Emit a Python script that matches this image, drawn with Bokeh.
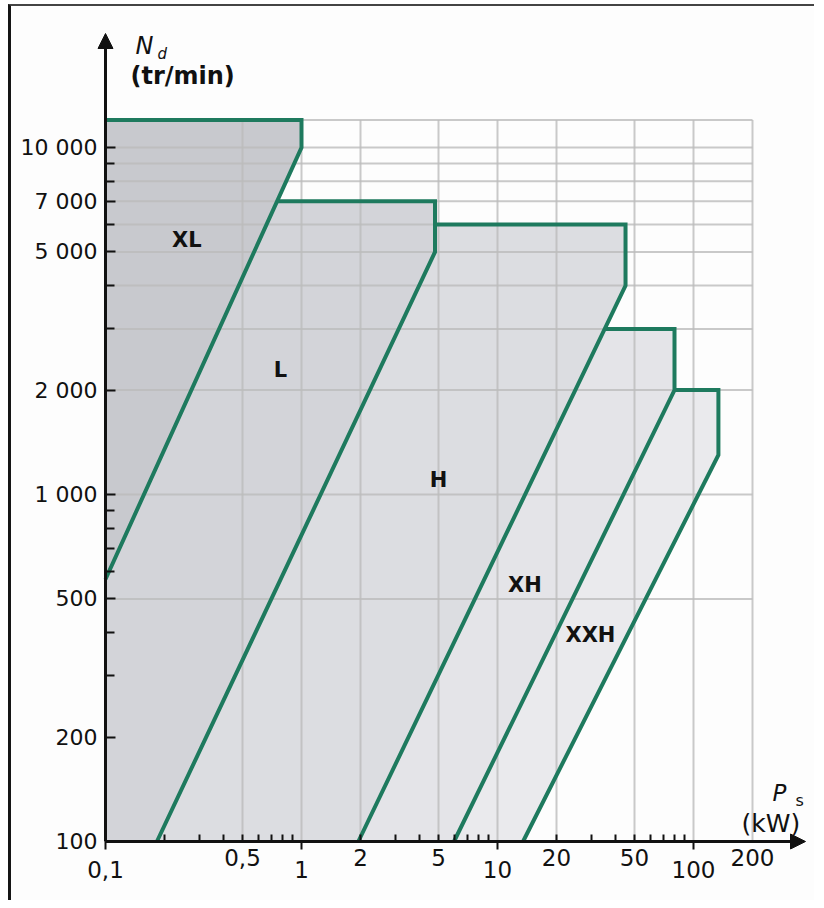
import numpy as np
from bokeh.plotting import figure
from bokeh.models import (Range1d, FixedTicker, Label, Arrow, NormalHead, ColumnDataSource,
                          CustomJSTickFormatter)
from bokeh.core.properties import value
from bokeh.embed import file_html
from bokeh.resources import INLINE

# ---------------- data ----------------
belt_names = ["XL", "L", "H", "XH", "XXH"]
# outer limit of each belt: power P_s (kW) / speed N_d (tr/min), from top-left down to the foot
xl_power = [0.1, 1.0, 1.0, 0.1]
xl_speed = [12000, 12000, 10000, 570]
l_power = [0.1, 4.8, 4.8, 0.183]
l_speed = [7000, 7000, 5000, 100]
h_power = [0.1, 45, 45, 1.95]
h_speed = [6000, 6000, 4000, 100]
xh_power = [0.1, 80, 80, 6.0]
xh_speed = [3000, 3000, 2000, 100]
xxh_power = [0.1, 134, 134, 13.5]
xxh_speed = [2000, 2000, 1300, 100]

label_power = [0.26, 0.78, 5.0, 13.8, 29.8]
label_speed = [5400, 2280, 1100, 547, 393]

grid_power = [0.5, 1, 2, 5, 10, 20, 50, 100, 200]
grid_speed = [500, 1000, 2000, 3000, 4000, 5000, 6000, 7000, 8000, 9000, 10000, 12000]

x_tick_values = [0.1, 0.5, 1, 2, 5, 10, 20, 50, 100, 200]
x_tick_labels = ["0,1", "0,5", "1", "2", "5", "10", "20", "50", "100", "200"]
x_decade_ticks = [0.1, 1, 10, 100]
x_minor_ticks = [0.2, 0.3, 0.4, 0.5, 0.6, 0.7, 0.8, 0.9,
                 2, 3, 4, 5, 6, 7, 8, 9,
                 20, 30, 40, 50, 60, 70, 80, 90]
y_tick_values = [100, 200, 500, 1000, 2000, 5000, 7000, 10000]
y_tick_labels = ["100", "200", "500", "1 000", "2 000", "5 000", "7 000", "10 000"]
y_minor_ticks = [300, 400, 600, 700, 800, 900, 3000, 4000, 6000, 8000, 9000]

belt_power = [xl_power, l_power, h_power, xh_power, xxh_power]
belt_speed = [xl_speed, l_speed, h_speed, xh_speed, xxh_speed]

# ---------------- layout: the frame fills the whole canvas ----------------
P_MIN, N_MIN = 0.1, 100          # axis origin
PX_DEC_X, PX_DEC_Y = 196, 347    # pixels per decade
W, H = 806, 896
ORIG_X, ORIG_Y = 94, 835         # canvas position of the origin (0.1 kW, 100 tr/min)
TIP_X, TIP_Y = 794, 27           # canvas position of the arrow tips
X_START = P_MIN * 10 ** (-ORIG_X / PX_DEC_X)
X_END = P_MIN * 10 ** ((W - ORIG_X) / PX_DEC_X)
Y_START = N_MIN * 10 ** (-(H - ORIG_Y) / PX_DEC_Y)
Y_END = N_MIN * 10 ** (ORIG_Y / PX_DEC_Y)
P_TIP = P_MIN * 10 ** ((TIP_X - ORIG_X) / PX_DEC_X)
N_TIP = N_MIN * 10 ** ((ORIG_Y - TIP_Y) / PX_DEC_Y)

GREEN = "#1e7a5e"
INK = "#111111"
fill_colors = ["#c8c9ce", "#d3d4d9", "#dcdde1", "#e4e4e8", "#eaeaed"]
FONT = value("DejaVu Sans")

p = figure(width=W, height=H, x_axis_type="log", y_axis_type="log",
           x_range=Range1d(X_START, X_END), y_range=Range1d(Y_START, Y_END),
           output_backend="svg", toolbar_location=None,
           min_border=0, min_border_left=0, min_border_right=0,
           min_border_top=0, min_border_bottom=0)
p.styles = {"margin-left": "8px", "margin-top": "4px",
            "border-left": "3px solid #151515", "border-top": "2px solid #444"}
p.xgrid.visible = False
p.ygrid.visible = False
p.outline_line_color = None
p.background_fill_color = "#fdfdfd"
p.border_fill_color = "#fdfdfd"


def x_on_boundary(pw, sp, n_target):
    lx, ln = np.log10(pw), np.log10(sp)
    t_n = np.log10(n_target)
    for i in range(len(pw) - 1):
        n0, n1 = ln[i], ln[i + 1]
        if n0 != n1 and min(n0, n1) <= t_n <= max(n0, n1):
            t = (t_n - n0) / (n1 - n0)
            return 10 ** (lx[i] + t * (lx[i + 1] - lx[i]))
    return pw[0]


# fills: widest (lightest) first, narrower belts painted on top
for i in reversed(range(len(belt_names))):
    xs = list(belt_power[i]) + [P_MIN]
    ys = list(belt_speed[i]) + [N_MIN]
    p.patch(xs, ys, fill_color=fill_colors[i], fill_alpha=1.0, line_color=None)

# grid
vy0 = [N_MIN] * len(grid_power)
vy1 = [grid_speed[-1]] * len(grid_power)
p.segment(x0=grid_power, y0=vy0, x1=grid_power, y1=vy1,
          line_color="#bbbbbb", line_width=2, line_alpha=0.8)
hx0 = [P_MIN] * len(grid_speed)
hx1 = [grid_power[-1]] * len(grid_speed)
p.segment(x0=hx0, y0=grid_speed, x1=hx1, y1=grid_speed,
          line_color="#bbbbbb", line_width=2, line_alpha=0.8)

# visible outer limits (green)
for i in range(len(belt_names)):
    pw = list(belt_power[i])
    sp = list(belt_speed[i])
    if i > 0:
        pw[0] = x_on_boundary(belt_power[i - 1], belt_speed[i - 1], sp[0])
    p.line(pw, sp, line_color=GREEN, line_width=4, line_join="miter")

# belt names
src = ColumnDataSource(dict(x=label_power, y=label_speed, t=belt_names))
p.text(x="x", y="y", text="t", source=src, text_font=FONT, text_font_style="bold",
       text_font_size="21px", text_align="center", text_baseline="middle", text_color=INK)

# axes drawn through the origin
p.xaxis.fixed_location = N_MIN
p.yaxis.fixed_location = P_MIN
for ax in (p.xaxis[0], p.yaxis[0]):
    ax.axis_line_color = None
    ax.major_tick_line_width = 2
    ax.minor_tick_line_width = 2
    ax.major_tick_line_color = INK
    ax.minor_tick_line_color = INK

p.xaxis.ticker = FixedTicker(ticks=x_decade_ticks, minor_ticks=x_minor_ticks)
p.xaxis.major_tick_in = 0
p.xaxis.major_tick_out = 8
p.xaxis.minor_tick_in = 7
p.xaxis.minor_tick_out = 0
p.xaxis.formatter = CustomJSTickFormatter(code="return ''")

p.yaxis.ticker = FixedTicker(ticks=y_tick_values, minor_ticks=y_minor_ticks)
p.yaxis.major_tick_in = 10
p.yaxis.major_tick_out = 0
p.yaxis.minor_tick_in = 9
p.yaxis.minor_tick_out = 0
p.yaxis.major_label_overrides = {v: t for v, t in zip(y_tick_values, y_tick_labels)}
p.yaxis.major_label_text_font = "DejaVu Sans"
p.yaxis.major_label_text_font_size = "22px"
p.yaxis.major_label_text_color = INK
p.yaxis.major_label_standoff = 8

# x tick labels (decades sit a little lower)
dec_x = [v for v in x_tick_values if v in x_decade_ticks]
dec_t = [t for v, t in zip(x_tick_values, x_tick_labels) if v in x_decade_ticks]
oth_x = [v for v in x_tick_values if v not in x_decade_ticks]
oth_t = [t for v, t in zip(x_tick_values, x_tick_labels) if v not in x_decade_ticks]
p.text(x=dec_x, y=[N_MIN] * len(dec_x), text=dec_t, y_offset=28,
       text_align="center", text_baseline="middle", text_font=FONT,
       text_font_size="23px", text_color=INK)
p.text(x=oth_x, y=[N_MIN] * len(oth_x), text=oth_t, y_offset=16,
       text_align="center", text_baseline="middle", text_font=FONT,
       text_font_size="23px", text_color=INK)

# axis lines with arrow heads
p.add_layout(Arrow(end=NormalHead(size=15, fill_color=INK, line_color=INK),
                   x_start=P_MIN, y_start=N_MIN, x_end=P_MIN, y_end=N_TIP,
                   line_width=3, line_color=INK))
p.add_layout(Arrow(end=NormalHead(size=15, fill_color=INK, line_color=INK),
                   x_start=P_MIN, y_start=N_MIN, x_end=P_TIP, y_end=N_MIN,
                   line_width=3, line_color=INK))

# axis titles
def title(x, y, text, dx, dy, size, style):
    p.add_layout(Label(x=x, y=y, text=text, x_offset=dx, y_offset=dy,
                       text_align="left", text_baseline="middle",
                       text_font="DejaVu Sans", text_font_size=size,
                       text_font_style=style, text_color=INK))

title(P_MIN, N_TIP, "N", 30, -12, "24px", "italic")
title(P_MIN, N_TIP, "d", 52, -20, "15px", "italic")
title(P_MIN, N_TIP, "(tr/min)", 25, -42, "24px", "bold")
title(P_TIP, N_MIN, "P", -33, 49, "23px", "italic")
title(P_TIP, N_MIN, "s", -10, 41, "16px", "normal")
title(P_TIP, N_MIN, "(kW)", -64, 18, "25px", "normal")

open("out.html", "w").write(file_html(p, INLINE))
